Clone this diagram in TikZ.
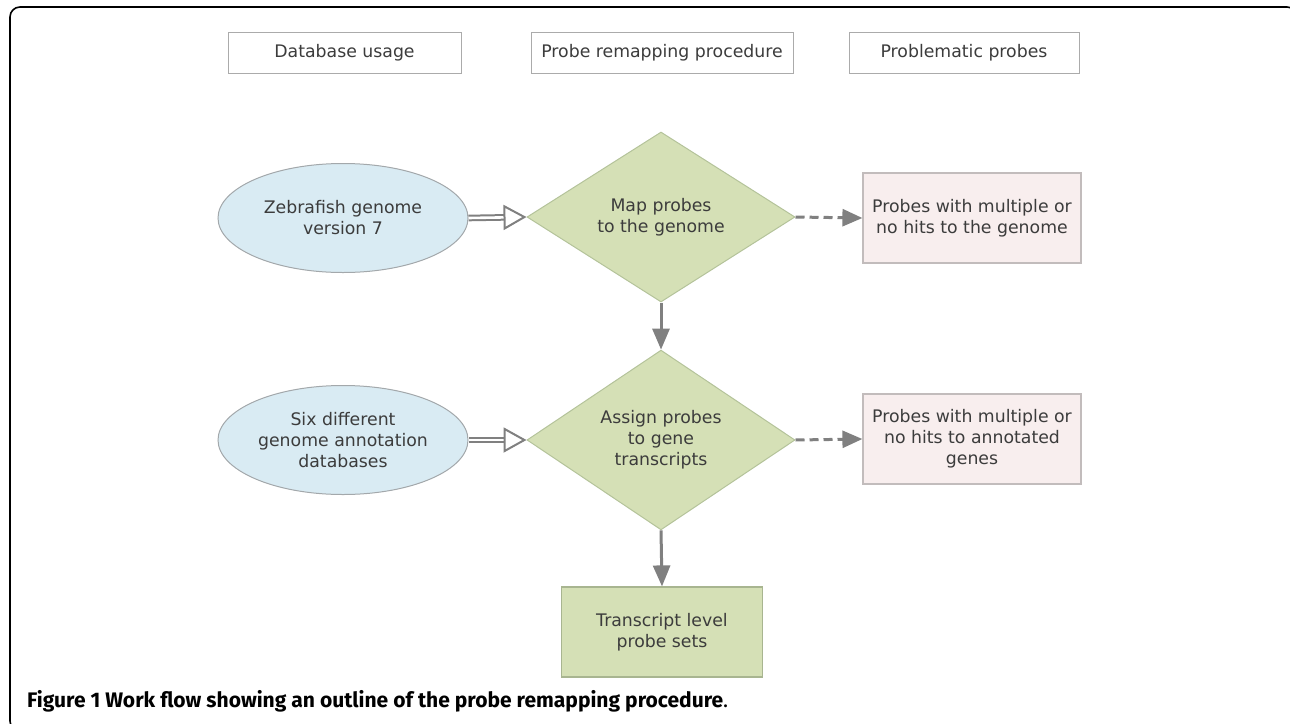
\documentclass[tikz,border=0pt]{standalone}
\usepackage{fontspec}
\setmainfont{DejaVu Sans}
\newfontfamily\capfont{Fira Sans}
\usetikzlibrary{shapes.geometric,arrows.meta}
\definecolor{txtgray}{HTML}{3C3C3C}
\definecolor{arrowgray}{HTML}{808080}
\definecolor{ellfill}{HTML}{D9EBF3}
\definecolor{elldraw}{HTML}{A3A8AB}
\definecolor{grnfill}{HTML}{D5E0B6}
\definecolor{grndraw}{HTML}{B4C39A}
\definecolor{boxdraw}{HTML}{A8B590}
\definecolor{pinkfill}{HTML}{F8EEEE}
\definecolor{pinkdraw}{HTML}{C2BCBC}
\definecolor{hdrdraw}{HTML}{ABABAB}
\begin{document}
\begin{tikzpicture}[x=1pt,y=-1pt,
  every node/.style={text=txtgray, inner sep=0pt, align=center},
  body/.style={font=\fontsize{17.3}{21}\selectfont},
  hdr/.style={body, draw=hdrdraw, line width=1pt, fill=white, minimum height=41pt},
  ell/.style={body, ellipse, draw=elldraw, line width=1pt, fill=ellfill, minimum width=250pt, minimum height=109pt},
  dia/.style={body, diamond, draw=grndraw, line width=1pt, fill=grnfill, minimum width=268pt, minimum height=170pt},
  pinkbox/.style={body, rectangle, draw=pinkdraw, line width=1.2pt, fill=pinkfill, minimum width=218pt, minimum height=90pt},
  grnbox/.style={body, rectangle, draw=boxdraw, line width=1.2pt, fill=grnfill, minimum width=201pt, minimum height=90pt},
  solidarrow/.style={draw=arrowgray, line width=3pt, -{Triangle[length=21pt, width=17pt]}},
  dasharrow/.style={draw=arrowgray, line width=3pt, dash pattern=on 9pt off 5pt, -{Triangle[length=20pt, width=17pt]}},
  dblarrow/.style={draw=arrowgray, line width=2pt, double=white, double distance=2.6pt, -{Triangle[open, length=23pt, width=25pt, line width=2pt]}},
  framestyle/.style={draw=black, line width=1.6pt, rounded corners=10pt}
]
\useasboundingbox (0,0) rectangle (1290,723);
\draw[framestyle] (1297,40) -- (1297,7) -- (10,7) -- (10,731) -- (40,731);

% headers
\node[hdr, minimum width=233pt] (h1) at (344.5,52.5) {Database usage};
\node[hdr, minimum width=262pt] (h2) at (662,52.5) {Probe remapping procedure};
\node[hdr, minimum width=230pt] (h3) at (964,52.5) {Problematic probes};

% row 1
\node[ell] (e1) at (343,218) {Zebrafish genome\\version 7};
\node[dia] (d1) at (661,217) {Map probes\\to the genome};
\node[pinkbox] (r1) at (972,218) {Probes with multiple or\\no hits to the genome};

% row 2
\node[ell] (e2) at (343,440) {Six different\\genome annotation\\databases};
\node[dia] (d2) at (661,440) {Assign probes\\to gene\\transcripts};
\node[pinkbox] (r2) at (972,439) {Probes with multiple or\\no hits to annotated\\genes};

% bottom
\node[grnbox] (b) at (662,632) {Transcript level\\probe sets};

% connectors
\draw[dblarrow] (e1.east) -- (d1.west);
\draw[dblarrow] (e2.east) -- (d2.west);
\draw[dasharrow] (d1.east) -- (r1.west);
\draw[dasharrow] (d2.east) -- (r2.west);
\draw[solidarrow] (d1.south) -- (d2.north);
\draw[solidarrow] (d2.south) -- (b.north);

% caption
\node[anchor=base west, text=black] (cap) at (27,707) {\resizebox{701pt}{!}{\capfont\fontsize{17}{20}\selectfont\textbf{Figure 1 Work flow showing an outline of the probe remapping procedure}.}};
\end{tikzpicture}
\end{document}
